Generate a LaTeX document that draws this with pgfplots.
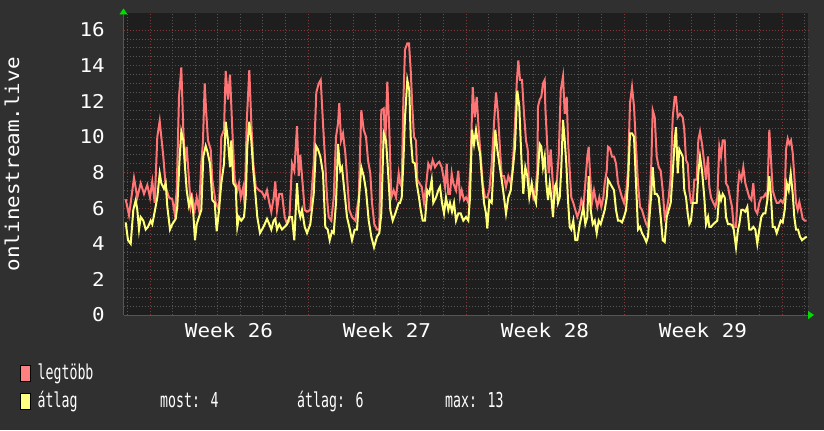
\documentclass[border=0pt]{standalone}
\usepackage{fontspec}
\usepackage{pgfplots}
\usepackage{pgfplotstable}
\pgfplotsset{compat=1.18}
\usetikzlibrary{arrows.meta}
\newfontfamily\axfont[FakeStretch=1.1]{DejaVu Sans Mono}
\newfontfamily\legfont[FakeStretch=0.645]{DejaVu Sans Mono}
\definecolor{outerbg}{HTML}{303030}
\definecolor{plotbg}{HTML}{1E1E1E}
\definecolor{gridminor}{HTML}{555555}
\definecolor{gridmajor}{HTML}{803838}
\definecolor{redc}{HTML}{FF7575}
\definecolor{yelc}{HTML}{FFFF78}
\definecolor{legred}{HTML}{FF8080}
\definecolor{legyel}{HTML}{FFFF80}
\definecolor{arrowgreen}{HTML}{00DD00}

\pgfplotstableread{
x y
125.7 6.5
129 5.6
134 7.7
137.3 6.6
140.7 7.4
144 6.8
147.3 7.3
150 6.6
152.3 7.5
154.7 6.3
157.3 10.0
159.7 10.9
161.3 10.0
163.3 8.9
165.7 7.2
169 6.6
172.3 6.5
174.7 5.7
176.7 7.0
179 12.25
181.3 13.9
183.3 10.4
185 8.5
186.7 9.45
189 7.6
190.7 6.1
192.3 6.6
194.7 5.9
196.7 6.6
199 5.9
201.3 8.5
203 9.8
204.7 13.0
206.3 11.3
208 9.8
210.7 9.3
212.3 7.6
215.7 6.3
219 5.9
221.3 10.0
224 10.4
225.7 13.7
228 12.1
230 13.5
232.3 10.4
234.7 7.6
237.3 7.0
239 7.4
240.7 6.6
243.3 7.2
244.7 6.1
246.7 10.8
249.3 13.75
251.3 10.8
253.3 8.5
255.7 7.2
259 7.0
262 6.9
264.7 6.6
267 7.0
269.3 6.3
271.3 5.8
273.7 6.6
275.3 7.5
277 5.9
279.3 6.8
282 6.8
284.7 5.5
287 5.1
289.3 5.3
292 8.5
294.3 8.1
297 10.6
298.7 7.8
300.3 9.0
302 7.8
304.7 5.9
307 5.8
310.3 5.9
313.7 8.5
316.3 12.5
318.7 13.0
320.7 13.2
323 10.75
325.3 8.5
327 6.6
328.7 5.5
331.3 5.3
333.7 6.6
336 10.0
338 10.75
339.3 11.9
341 9.8
343 10.2
345.3 9.1
347 7.8
349.3 5.9
352 5.5
355.3 5.3
358.7 6.6
361.3 11.5
363.7 10.4
366 10.0
368 8.7
370.3 7.95
372 6.3
374.3 5.1
377 4.8
379.3 4.8
381.3 11.5
383.7 11.6
385.3 9.6
387.3 13.1
389.3 10.4
391.3 6.6
393.7 7.0
396 6.6
398.7 7.95
400 7.4
401.7 7.2
403.3 11.9
405 14.9
407.3 15.25
409 15.25
410.7 13.75
412.3 11.7
414 10.0
416 9.8
417.3 7.6
419.3 7.4
421.7 7.2
424 6.3
426 7.2
428.3 8.5
430.7 8.2
432.7 8.7
435 8.3
437.3 8.5
439.3 8.6
441.7 8.3
443.3 7.8
445 7.2
446.7 8.5
448.3 6.8
450 6.8
451.7 7.95
453.3 7.4
456 7.0
458.3 8.1
460 6.6
461.7 7.0
464 6.45
466 6.6
468.3 6.3
470.7 8.7
472.7 12.8
474.7 11.1
476.7 12.25
478.7 10.4
480.7 8.9
482.7 7.4
485 6.6
487.3 6.6
489.3 7.0
491.7 8.5
494 10.75
496 12.5
498 11.3
500 9.3
501.7 7.8
504 7.8
506 7.2
508.3 7.8
510.7 7.4
512.7 8.3
515 10.75
516.7 13.0
518.3 14.3
520 13.2
522 13.2
524 11.3
526 9.8
527.7 9.3
529.3 6.8
531.7 7.2
533.3 6.6
535.3 7.0
537.3 8.1
538 11.7
539.7 12.1
541.3 12.25
543 13.0
544.7 13.2
545.3 11.7
547.3 9.45
548.7 7.95
550.7 9.3
552 8.1
554 6.45
556.3 7.2
558.7 8.9
560.7 12.6
563 13.4
564.7 11.3
566.7 12.25
568 9.8
569.7 8.1
571.3 6.6
573.3 6.3
575.3 5.9
577.3 5.5
579.7 5.9
581.3 6.45
583.3 6.07
585.3 7.4
587.3 8.9
588.7 9.45
590 7.95
592 6.3
594 7.0
595.3 6.6
597.3 6.07
599.3 6.6
601.3 6.07
603.3 6.6
604.7 7.4
606.7 8.1
608 9.45
610 9.35
612 8.9
614 8.9
616 8.5
618 7.4
620 7.0
622 6.6
624 6.3
626.3 7.0
628 8.1
630 11.9
632 12.8
634 11.7
636 9.45
638 7.4
640 6.07
642 5.9
644 5.5
646.3 5.1
648 4.95
650 7.0
651.3 8.5
652.7 11.5
654.7 11.1
656.7 8.9
658.7 8.3
660.7 8.1
662.7 7.0
664.7 5.5
666.7 5.9
668.7 6.6
670.7 7.8
672.7 11.1
674.7 12.25
676 12.25
677.7 11.1
680 11.3
682.7 11.1
684.3 10.4
686 8.7
687.7 8.5
689.3 7.0
691 6.3
692.7 6.3
694.3 7.6
696.7 7.6
698.3 9.8
700 10.3
702 9.6
704.3 8.5
706 7.6
708 8.9
709.3 7.2
711 6.6
713.3 6.3
715.3 6.07
717.3 6.6
719.3 9.45
721 8.9
722.7 9.8
724.7 9.8
726 7.4
728 7.2
730 6.6
732 6.07
733.7 4.95
736 4.95
738 7.2
739.3 7.95
741.3 7.6
743.3 8.3
745.3 7.4
747.3 7.0
749.3 6.6
751.3 6.45
753.3 7.4
755.3 5.9
757.3 5.7
759.3 6.3
761.3 6.6
763.3 6.6
765.3 6.8
767.3 6.6
769.3 10.4
771 8.7
772.7 7.0
774.7 6.6
776.7 6.3
778.7 6.3
780.7 6.45
782.7 6.3
784.7 6.6
786 9.3
787.7 9.9
789.3 9.6
791 9.8
792.7 9.1
794.3 7.8
796 6.3
797.7 5.9
799.3 6.35
801 5.9
802.7 5.4
804.7 5.3
806.7 5.3
}\maxtable

\pgfplotstableread{
x y
125.7 5.2
128 4.2
130.7 4.0
133.3 5.9
135.7 6.45
137.3 5.9
139 4.8
140.7 5.5
143.3 5.3
145.7 4.8
148 4.95
150.7 5.3
152.3 5.1
154.7 5.8
157.3 6.6
159.7 7.95
161.3 7.4
164 7.1
165.7 7.4
167.3 6.1
170 4.8
172.3 5.1
175.7 5.4
177.3 6.1
179.7 8.9
181.3 10.3
183.3 9.8
185 8.3
186.7 7.0
189 6.1
191.3 6.6
193.3 5.7
195 4.2
196.7 5.1
199 5.5
201.3 5.9
203.3 8.9
205.7 9.5
207.3 9.2
210 8.5
212.3 6.45
214.7 6.3
216.7 4.7
219 5.9
221.3 7.4
224 8.5
225.7 10.85
228 9.8
230 8.3
231.3 9.8
233.3 7.4
235.7 7.2
237.3 4.95
239 5.5
241.3 5.3
244 5.5
245.7 6.6
247.3 9.45
249.3 10.85
251.3 9.8
253.3 8.1
255.7 6.6
257.3 5.5
260 4.6
262 4.8
264.7 5.1
267 5.4
269.3 5.1
271.3 4.8
273.7 5.3
275.3 5.4
277 4.8
279.3 5.1
282 4.8
284.7 4.95
287 5.1
289.3 5.5
292 5.5
294.3 4.2
297 7.4
298.7 5.9
300.3 5.5
302 5.9
304.7 4.95
307 4.6
310.3 5.1
313.7 6.8
316 9.5
318 9.3
320.3 8.9
323 7.95
325.3 4.95
327.7 4.8
329.7 4.2
332 4.7
333.7 4.6
336 6.3
338 9.6
340.3 8.1
342 8.3
344.3 7.0
347 5.5
349.3 4.95
352 4.2
354.7 4.8
357 4.8
359.3 6.8
361.3 8.3
363.7 7.8
366 7.0
368.7 5.3
371.3 4.4
374 3.8
377 4.4
379.3 4.6
381.3 5.7
383.7 10.2
386 9.8
388 8.1
390.3 5.9
392.7 5.3
395.3 5.7
398.7 6.3
400 6.3
401.7 6.6
403.3 8.5
405 11.1
407.3 13.2
409.3 12.6
410.7 10.0
412.7 8.6
415 8.5
416.7 7.4
419 6.6
420.7 5.9
422.7 5.3
425 5.3
427.3 7.0
429.3 6.8
431.7 7.6
433.3 6.3
436 6.6
438.3 7.0
440 7.2
442 6.3
444 5.7
446 6.6
448.3 5.9
450 6.3
452 5.8
454 6.3
456 5.3
458.3 5.7
460.7 5.7
463.3 5.3
466 5.5
468.3 5.3
470 6.6
472 10.4
474 9.6
476 10.4
478 9.6
480 9.1
482 7.6
484 6.3
486 5.7
487.3 4.85
489.3 6.45
491.7 6.3
493.3 8.1
495.3 10.4
497.3 9.3
499.3 8.5
501.7 7.6
504 6.6
506 5.7
508.3 6.6
510.7 7.0
512.7 8.1
515 9.45
517.3 12.6
519.3 11.7
521.3 8.9
523.3 6.8
525.3 8.3
527.3 7.8
529.3 6.6
531.7 7.4
533.3 6.8
536 6.3
538 8.1
539.7 9.6
541.3 9.45
543 8.3
544.7 8.9
546.3 7.4
548 6.45
549.7 7.4
551.3 6.6
553 5.5
554.7 7.2
556.3 7.4
558 6.3
559.7 6.6
561.3 8.3
563 10.95
564.7 9.8
566.3 8.5
568 6.45
569.7 4.95
571.3 4.8
573.3 5.3
575.3 4.2
577.3 4.2
579.7 5.1
581.3 5.5
583.3 6.07
585.3 5.1
587.3 5.5
588.7 7.8
590.7 5.9
592.7 5.1
594.7 5.3
596.7 4.6
598.7 5.3
600.7 5.1
602.7 5.5
604.7 5.9
606.7 6.6
608 7.6
610 7.4
612 7.2
614 7.0
616 5.9
618 5.3
620 5.3
622 5.2
624 5.5
626 5.9
628 7.4
630 10.2
632 10.2
634 10.0
636 7.4
638 4.8
640 4.95
642 4.6
644 4.4
646.3 4.1
648 4.4
650 5.9
651.3 6.8
652.7 8.3
654.7 6.8
656.7 6.8
658.7 6.6
660.7 5.5
662.7 4.2
664.7 4.1
666.7 5.5
668.7 5.9
670.7 6.3
672.7 7.95
674.7 9.8
676 10.55
677.7 7.95
679.3 9.3
681 9.1
682.7 8.9
684.3 7.0
686 6.6
687.7 5.7
689.3 5.1
691 5.3
692.7 6.3
694.3 6.3
696.7 6.3
698.3 7.95
700 8.9
702 8.1
704.3 6.6
706 5.1
708 5.5
709.3 4.95
711 4.95
713.3 5.1
715.3 5.2
717.3 5.3
719.3 6.8
721 6.45
722.7 6.8
724.7 6.6
726 5.5
728 5.1
730 5.1
732 5.05
733.7 4.8
736 3.8
738 4.8
739.3 5.1
741.3 5.9
743.3 5.9
745.3 5.8
747.3 6.07
749.3 4.8
751.3 4.8
753.3 4.95
755.3 4.8
757.3 4.0
759.3 4.8
761.3 5.5
763.3 5.7
765.3 5.7
767.3 6.45
769.3 7.8
771 6.6
772.7 4.95
774.7 4.95
776.7 4.6
778.7 4.95
780.7 5.3
782.7 5.2
784.7 5.9
786.7 7.4
788.7 7.0
790.7 7.95
792.7 6.8
794.3 5.5
796 4.8
798 4.8
800 4.4
802 4.2
804 4.3
806.7 4.4
}\avgtable

\begin{document}
\begin{tikzpicture}[x=1bp,y=1bp]
\fill[outerbg] (0,0) rectangle (824,430);
\begin{axis}[
  at={(123.5bp,115bp)}, anchor=south west,
  width=684.5bp, height=301.5bp, scale only axis,
  xmin=123.5, xmax=808, ymin=0, ymax=16.93,
  axis background/.style={fill=plotbg},
  axis x line=bottom, axis y line=left,
  axis line style={draw=gridminor, line width=0.8bp},
  x axis line style={-{Triangle[color=arrowgreen,length=6bp,width=8bp]}, shorten >=-6bp},
  y axis line style={-{Triangle[color=arrowgreen,length=6bp,width=8bp]}, shorten >=-5bp},
  xtick={150,308,466,624,782},
  xticklabels={},
  minor xtick={127.43,172.57,195.14,217.71,240.29,262.86,285.43,330.57,353.14,375.71,398.29,420.86,443.43,488.57,511.14,533.71,556.29,578.86,601.43,646.57,669.14,691.71,714.29,736.86,759.43,804.57},
  extra x ticks={229,387,545,703},
  extra x tick labels={Week 26,Week 27,Week 28,Week 29},
  extra x tick style={grid=none, major tick length=0pt,
    xticklabel style={anchor=north, inner sep=0pt, yshift=-8bp}},
  ytick={0,2,...,16},
  minor y tick num=3,
  grid=both,
  major grid style={draw=gridmajor, dash pattern=on 1bp off 2bp, line width=0.8bp},
  minor grid style={draw=gridminor, dash pattern=on 1bp off 2bp, line width=0.8bp},
  tick style={draw=none},
  /pgf/number format/assume math mode=true,
  ticklabel style={font=\axfont\fontsize{19bp}{22bp}\selectfont, text=white},
  yticklabel style={anchor=east, inner sep=0pt, xshift=-16.5bp},
  ylabel={onlinestream.live},
  ylabel style={font=\axfont\fontsize{19bp}{22bp}\selectfont, text=white,
    at={(axis description cs:-0.163,0.5)}, anchor=center},
  legend style={at={(axis description cs:-0.1512,-0.1615)}, anchor=north west,
    draw=none, fill=none, text=white, inner sep=0pt, outer sep=0pt,
    font=\legfont\fontsize{20.5bp}{24bp}\selectfont, row sep=7.1bp,
    nodes={inner sep=0pt, text height=16bp, text depth=5bp},
    /tikz/every odd column/.append style={column sep=7bp}},
  legend cell align=left,
]
\addplot[draw=redc, line width=2bp,
  legend image code/.code={\draw[fill=legred, draw=black, line width=0.7bp] (0bp,-6.8bp) rectangle (10bp,8.5bp);}]
  table[x=x,y=y] {\maxtable};
\addlegendentry{legtöbb}
\addplot[draw=yelc, line width=2bp,
  legend image code/.code={\draw[fill=legyel, draw=black, line width=0.7bp] (0bp,-6.8bp) rectangle (10bp,8.5bp);}]
  table[x=x,y=y] {\avgtable};
\addlegendentry{átlag}
\end{axis}
\node[anchor=base west, inner sep=0pt, text=white, font=\legfont\fontsize{20.5bp}{24bp}\selectfont] at (160,22.7) {most: 4};
\node[anchor=base west, inner sep=0pt, text=white, font=\legfont\fontsize{20.5bp}{24bp}\selectfont] at (297,22.7) {átlag: 6};
\node[anchor=base west, inner sep=0pt, text=white, font=\legfont\fontsize{20.5bp}{24bp}\selectfont] at (445,22.7) {max: 13};
\pgfresetboundingbox
\path[use as bounding box] (0,0) rectangle (824,430);
\end{tikzpicture}
\end{document}
